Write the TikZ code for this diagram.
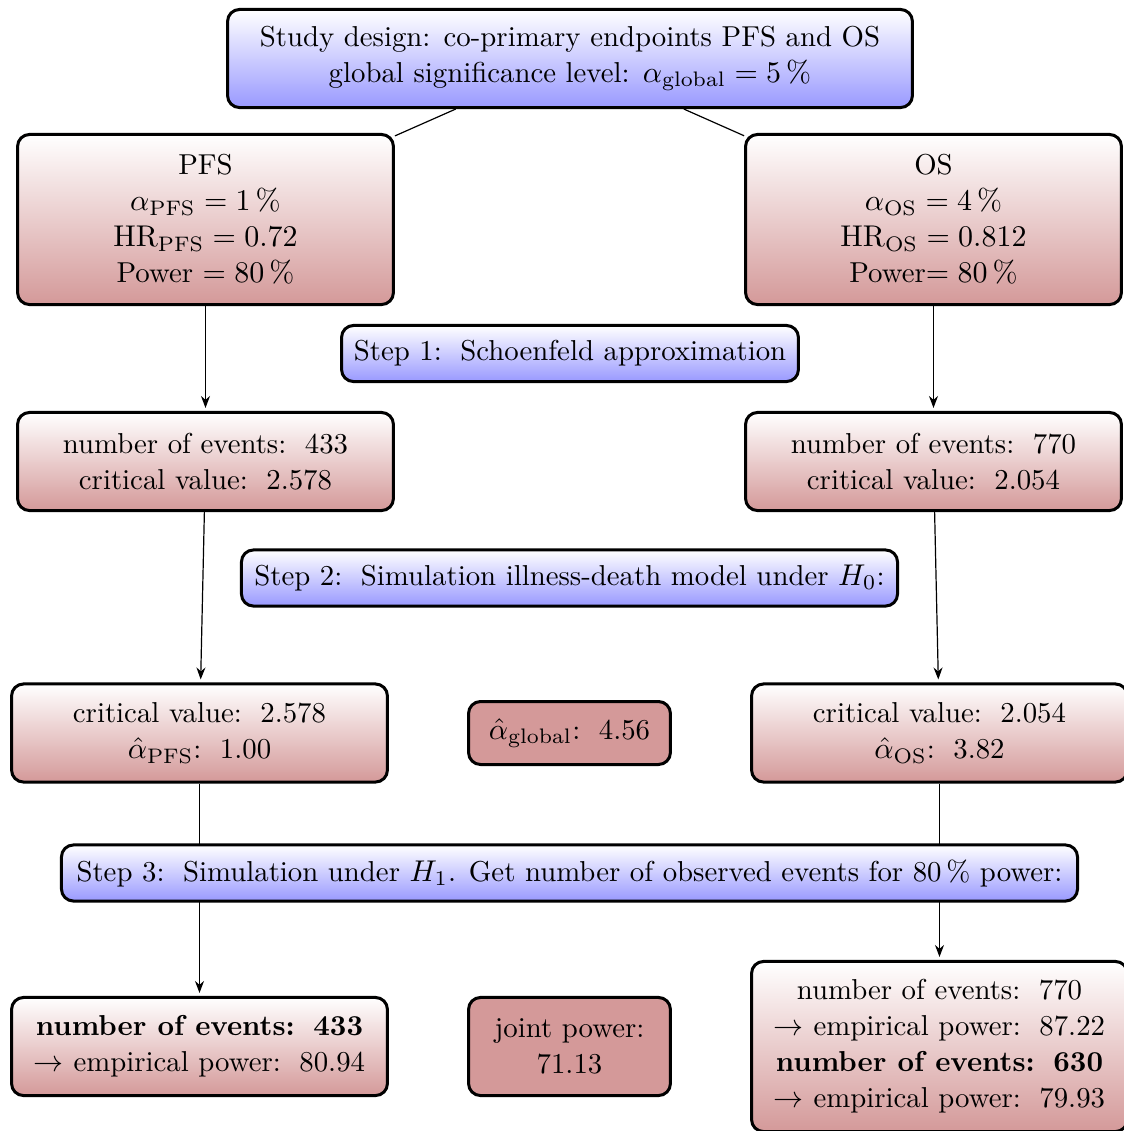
\documentclass[tikz,border=0pt]{standalone}
\usetikzlibrary{arrows.meta}
\definecolor{boxred}{RGB}{212,153,153}
\definecolor{boxblue}{RGB}{153,153,255}
\newcommand\mycolsp{\hspace{6.2pt}}
\newcommand\mycolspb{\hspace{4.4pt}}
\tikzset{
  base/.style={draw=black, line width=1pt, rounded corners=4pt, align=center, inner sep=2pt,
    font=\fontsize{9.6}{12}\selectfont},
  bluebox/.style={base, top color=white, bottom color=boxblue},
  redbox/.style={base, top color=white, bottom color=boxred},
  solidred/.style={base, fill=boxred},
  arr/.style={-{Stealth[length=4pt,width=3pt]}, shorten >=1pt},
  conn/.style={line width=0.4pt},
}
\begin{document}
\begin{tikzpicture}[x=0.33333pt, y=-0.33333pt]
\useasboundingbox (0,0) rectangle (1124,1131);

\node[bluebox, minimum width=228.3pt, minimum height=32.7pt] (study) at (570,58.5)
  {Study design:\mycolspb co-primary endpoints PFS and OS\\ global significance level:\mycolspb $\alpha_{\mathrm{global}} = 5\,\%$};

\node[redbox, minimum width=125.3pt, minimum height=56.7pt] (pfs) at (205.5,219.5)
  {PFS\\ $\alpha_{\mathrm{PFS}} = 1\,\%$\\ $\mathrm{HR}_{\mathrm{PFS}} = 0.72$\\ Power $= 80\,\%$};
\node[redbox, minimum width=125.3pt, minimum height=56.7pt] (os) at (933.5,219.5)
  {OS\\ $\alpha_{\mathrm{OS}} = 4\,\%$\\ $\mathrm{HR}_{\mathrm{OS}} = 0.812$\\ Power$= 80\,\%$};

\node[bluebox, minimum width=152.3pt, minimum height=18.7pt] (step1) at (570,353.5)
  {Step 1:\mycolsp Schoenfeld approximation};

\node[redbox, minimum width=125.3pt, minimum height=32.7pt] (pfsev) at (205.5,461.5)
  {number of events:\mycolsp 433\\ critical value:\mycolsp 2.578};
\node[redbox, minimum width=125.3pt, minimum height=32.7pt] (osev) at (933.5,461.5)
  {number of events:\mycolsp 770\\ critical value:\mycolsp 2.054};

\node[bluebox, minimum width=218.7pt, minimum height=18.7pt] (step2) at (569.5,578)
  {Step 2:\mycolsp Simulation illness-death model under $H_0$:};

\node[redbox, minimum width=125.3pt, minimum height=32.7pt] (pfscrit) at (199.5,733)
  {critical value:\mycolsp 2.578\\ $\hat\alpha_{\mathrm{PFS}}$:\mycolsp 1.00};
\node[solidred, minimum width=67.3pt, minimum height=21pt] (aglobal) at (569.5,733)
  {$\hat\alpha_{\mathrm{global}}$:\mycolsp 4.56};
\node[redbox, minimum width=125.3pt, minimum height=32.7pt] (oscrit) at (939.5,733)
  {critical value:\mycolsp 2.054\\ $\hat\alpha_{\mathrm{OS}}$:\mycolsp 3.82};

\node[redbox, minimum width=125.3pt, minimum height=32.7pt] (pfsfin) at (199.5,1046.5)
  {\textbf{number of events:\mycolsp 433}\\ $\rightarrow$ empirical power:\mycolsp 80.94};
\node[solidred, minimum width=67.3pt, minimum height=32.7pt] (joint) at (569.5,1046.5)
  {joint power:\\ 71.13};
\node[redbox, minimum width=125.3pt, minimum height=56.7pt] (osfin) at (939.5,1046.5)
  {number of events:\mycolsp 770\\ $\rightarrow$ empirical power:\mycolsp 87.22\\ \textbf{number of events:\mycolsp 630}\\ $\rightarrow$ empirical power:\mycolsp 79.93};

\draw[conn] (study) -- (pfs);
\draw[conn] (study) -- (os);
\draw[conn, arr] (pfs) -- (pfsev);
\draw[conn, arr] (os) -- (osev);
\draw[conn, arr] (pfsev) -- (pfscrit);
\draw[conn, arr] (osev) -- (oscrit);
\draw[conn, arr] (pfscrit) -- (pfsfin);
\draw[conn, arr] (oscrit) -- (osfin);

\node[bluebox, minimum width=338.7pt, minimum height=18.7pt] (step3) at (569.5,873)
  {Step 3:\mycolsp Simulation under $H_1$. Get number of observed events for 80\,\% power:};
\end{tikzpicture}
\end{document}
